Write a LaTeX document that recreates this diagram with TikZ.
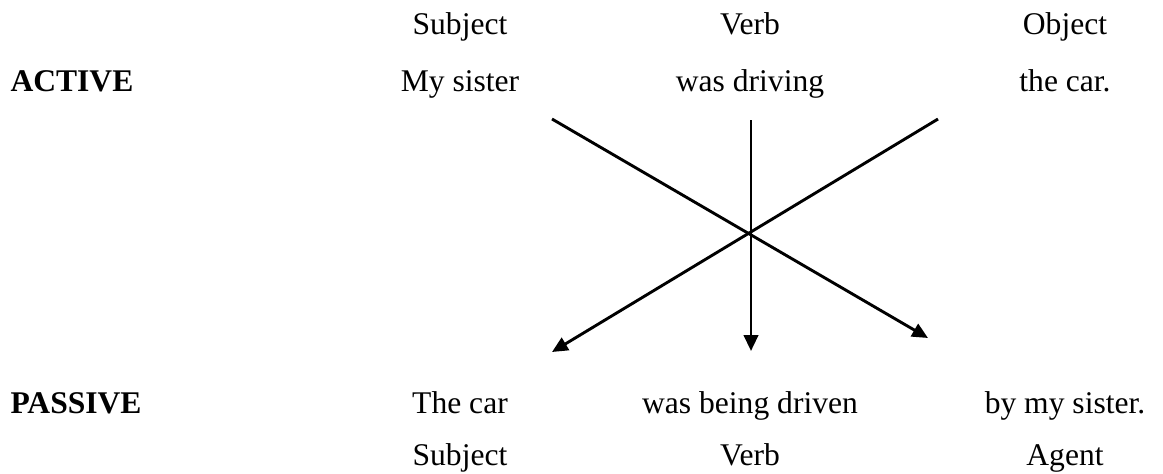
\documentclass[tikz,border=0pt]{standalone}
\usepackage{fontspec}
\setmainfont{Liberation Serif}
\usepackage{tikz}
\usetikzlibrary{arrows.meta,positioning,calc}

\tikzset{
  word/.style={anchor=base,inner sep=0pt,font=\fontsize{12}{14}\selectfont},
  voice/.style={word,anchor=base west,font=\fontsize{12}{14}\selectfont\bfseries},
  swap/.style={line width=1.1pt,-{Triangle[length=6pt,width=5.4pt]}}
}

\begin{document}
\begin{tikzpicture}[x=0.38pt,y=-0.38pt]
        \useasboundingbox (0,0) rectangle (1163,473);
        \def\ca{460}
        \def\cb{750}
        \def\cc{1065}
        % top: the active sentence
        \node[word] (roleS) at (\ca,35) {Subject};
        \node[word] (roleV) at (\cb,35) {Verb};
        \node[word] (roleO) at (\cc,35) {Object};
        \node[voice] (active) at (10,91) {ACTIVE};
        \node[word] (actS) at (\ca,91) {My sister};
        \node[word] (actV) at (\cb,91) {was driving};
        \node[word] (actO) at (\cc,91) {the car.};
        % bottom: the passive sentence
        \node[voice] (passive) at (10,413) {PASSIVE};
        \node[word] (pasS) at (\ca,413) {The car};
        \node[word] (pasV) at (\cb,413) {was being driven};
        \node[word] (pasA) at (\cc,413) {by my sister.};
        \node[word] (roleS2) at (\ca,465) {Subject};
        \node[word] (roleV2) at (\cb,465) {Verb};
        \node[word] (roleA) at (\cc,465) {Agent};
        % the crossing arrows
        \coordinate (fromS) at (552,119);
        \coordinate (fromV) at (751,120);
        \coordinate (fromO) at (938,119);
        \coordinate (toS) at (552,352);
        \coordinate (toV) at (751,351);
        \coordinate (toA) at (928,338);
        \draw[swap] (fromS) -- (toA);
        \draw[swap] (fromV) -- (toV);
        \draw[swap] (fromO) -- (toS);
      \end{tikzpicture}
\end{document}
